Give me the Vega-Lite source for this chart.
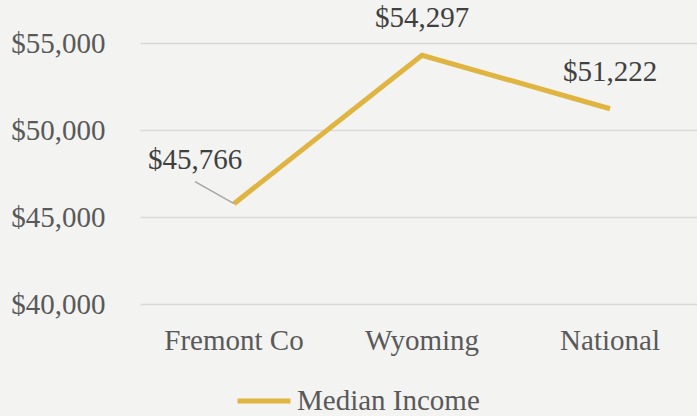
{
  "$schema": "https://vega.github.io/schema/vega-lite/v6.json",
  "width": 564,
  "height": 261,
  "autosize": {"type": "none"},
  "padding": {"left": 140, "top": 43, "right": 0, "bottom": 112},
  "background": "#f3f3f2",
  "config": {
    "view": {"stroke": null},
    "font": "Liberation Serif",
    "axis": {"labelFont": "Liberation Serif", "labelColor": "#595959", "labelFontSize": 29}
  },
  "data": {"values": [
    {"region": "Fremont Co", "income": 45766, "series": "Median Income"},
    {"region": "Wyoming", "income": 54297, "series": "Median Income"},
    {"region": "National", "income": 51222, "series": "Median Income"}
  ]},
  "encoding": {
    "x": {"field": "region", "type": "nominal", "sort": null,
      "scale": {"paddingInner": 0, "paddingOuter": 0},
      "axis": {"title": null, "labelAngle": 0, "domain": false, "ticks": false, "labelPadding": 22}},
    "y": {"field": "income", "type": "quantitative",
      "scale": {"domain": [40000, 55000], "zero": false, "nice": false},
      "axis": {"title": null, "values": [40000, 45000, 50000, 55000], "format": "$,.0f",
        "domain": false, "ticks": false, "labelPadding": 35, "gridColor": "#d9d9d9", "gridWidth": 1.5, "labelBaseline": "middle"}}
  },
  "layer": [
    {
      "mark": {"type": "line", "strokeWidth": 5, "color": "#e0b440", "clip": false},
      "encoding": {
        "color": {"field": "series", "type": "nominal",
          "scale": {"range": ["#e0b440"]},
          "legend": {"title": null, "orient": "none", "legendX": 95, "legendY": 329, "direction": "horizontal",
            "symbolType": "stroke", "symbolStrokeWidth": 5, "symbolSize": 2800, "labelFontSize": 29,
            "labelColor": "#595959", "labelFont": "Liberation Serif", "labelOffset": 4, "labelLimit": 400}}
      }
    },
    {
      "transform": [{"filter": "datum.region === 'Fremont Co'"}],
      "mark": {"type": "rule", "color": "#a6a6a6", "strokeWidth": 1.5, "x2Offset": -39, "y2Offset": -22},
      "encoding": {"x2": {"field": "region"}, "y2": {"field": "income"}}
    },
    {
      "transform": [{"filter": "datum.region === 'Fremont Co'"}],
      "mark": {"type": "text", "fontSize": 29, "color": "#404040", "dx": -39, "dy": -44, "baseline": "middle"},
      "encoding": {"text": {"field": "income", "type": "quantitative", "format": "$,.0f"}}
    },
    {
      "transform": [{"filter": "datum.region !== 'Fremont Co'"}],
      "mark": {"type": "text", "fontSize": 29, "color": "#404040", "dy": -37, "baseline": "middle"},
      "encoding": {"text": {"field": "income", "type": "quantitative", "format": "$,.0f"}}
    }
  ]
}
